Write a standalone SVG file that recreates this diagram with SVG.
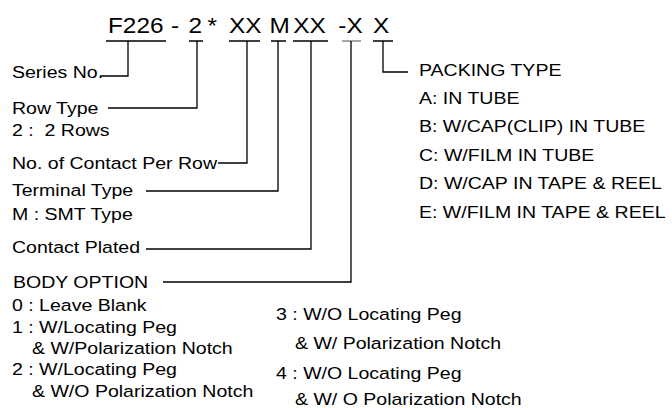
<svg xmlns="http://www.w3.org/2000/svg" width="672" height="408" viewBox="0 0 672 408">
<style>
text { font-family: "Liberation Sans", Arial, sans-serif; fill: #000; font-size: 16.7px; }
.title { font-size: 22.5px; }
.ln { fill: none; stroke: #000; stroke-width: 1.3; }
.ul { fill: none; stroke: #000; stroke-width: 1.5; }
.ulg { fill: none; stroke: #8a8a8a; stroke-width: 1.5; }
</style>
<rect width="672" height="408" fill="#fff"/>

<g id="code" transform="scale(1.084 1)">
  <text class="title" x="99.6" y="33">F226</text>
  <text class="title" x="157.7" y="33">-</text>
  <text class="title" x="173.9" y="33">2</text>
  <text class="title" x="191.4" y="33">*</text>
  <text class="title" x="211.3" y="33">XX</text>
  <text class="title" x="248.6" y="33">M</text>
  <text class="title" x="270.6" y="33">XX</text>
  <text class="title" x="312.1" y="33">-</text>
  <text class="title" x="319.6" y="33">X</text>
  <text class="title" x="344.1" y="33">X</text>
</g>

<g id="connectors">
  <path class="ul" d="M106,41 H166 M189,41 H203 M229,41 H260 M271,41 H286 M293,41 H328 M373,41 H393"/>
  <path class="ulg" d="M342,41 H361"/>
  <path class="ln" d="M128,41 V76 H100"/>
  <path class="ln" d="M197,41 V108 H108"/>
  <path class="ln" d="M247,41 V163 H218"/>
  <path class="ln" d="M278,41 V191 H146"/>
  <path class="ln" d="M311,41 V249 H146"/>
  <path class="ln" d="M351,41 V282 H163"/>
  <path class="ln" d="M383,41 V72 H408"/>
</g>

<g id="series-no" transform="scale(1.17 1)">
  <text x="10.26" y="78">Series No.</text>
</g>
<g id="row-type" transform="scale(1.17 1)">
  <text x="10.26" y="114">Row Type</text>
  <text x="10.26" y="136" xml:space="preserve">2 :  2 Rows</text>
</g>
<g id="contacts-per-row" transform="scale(1.17 1)">
  <text x="10.26" y="169">No. of Contact Per Row</text>
</g>
<g id="terminal-type" transform="scale(1.17 1)">
  <text x="10.26" y="196">Terminal Type</text>
  <text x="10.26" y="220">M : SMT Type</text>
</g>
<g id="contact-plated" transform="scale(1.17 1)">
  <text x="10.26" y="253">Contact Plated</text>
</g>
<g id="body-option" transform="scale(1.17 1)">
  <text x="11.11" y="288">BODY OPTION</text>
  <text x="10.26" y="311">0 : Leave Blank</text>
  <text x="10.26" y="333">1 : W/Locating Peg</text>
  <text x="27.35" y="354">&amp; W/Polarization Notch</text>
  <text x="10.26" y="375">2 : W/Locating Peg</text>
  <text x="27.35" y="397">&amp; W/O Polarization Notch</text>
  <text x="235.9" y="320">3 : W/O Locating Peg</text>
  <text x="252.1" y="349">&amp; W/ Polarization Notch</text>
  <text x="235.9" y="379">4 : W/O Locating Peg</text>
  <text x="252.1" y="405">&amp; W/ O Polarization Notch</text>
</g>
<g id="packing-type" transform="scale(1.17 1)">
  <text x="358.1" y="76">PACKING TYPE</text>
  <text x="358.1" y="104">A: IN TUBE</text>
  <text x="358.1" y="132">B: W/CAP(CLIP) IN TUBE</text>
  <text x="358.1" y="161">C: W/FILM IN TUBE</text>
  <text x="358.1" y="189">D: W/CAP IN TAPE &amp; REEL</text>
  <text x="358.1" y="218">E: W/FILM IN TAPE &amp; REEL</text>
</g>
</svg>
